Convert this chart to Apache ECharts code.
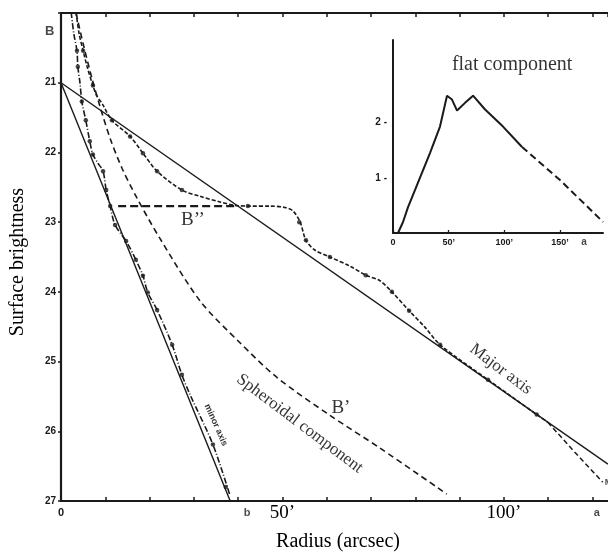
<!DOCTYPE html>
<html>
<head>
<meta charset="utf-8">
<script src="https://cdn.jsdelivr.net/npm/echarts@6/dist/echarts.min.js"></script>
<style>html,body{margin:0;padding:0;background:#fff;}#c{width:608px;height:556px;}</style>
</head>
<body>
<div id="c"></div>
<script>
// ---- Main panel data (radius in arcsec, surface brightness in mag) ----
const majorX = [3.4,4.1,5.0,5.9,7.2,8.1,9.3,11.5,15.6,18.5,21.7,27.3,31.4,35.9,39.3,42.7,47.2,50.6,52.4,54.0,55.3,57.3,60.7,65.2,68.8,72.0,74.7,78.6,82.2,85.6,96.4,107.4,109.9];
const majorY = [19.99,20.3,20.54,20.77,21.04,21.19,21.30,21.54,21.77,22.01,22.27,22.54,22.63,22.71,22.76,22.77,22.77,22.79,22.84,23.0,23.26,23.4,23.5,23.63,23.76,23.84,24.0,24.27,24.51,24.76,25.26,25.76,25.87];
const majorTailX = [109.9,116.0,122.3];
const majorTailY = [25.87,26.3,26.73];
const majorDotX = [5.0,7.2,11.5,15.6,18.5,21.7,27.3,42.2,53.8,55.3,60.7,68.8,74.7,78.6,85.6,96.4,107.4];
const majorDotY = [20.54,21.04,21.54,21.77,22.01,22.27,22.54,22.77,23.0,23.26,23.5,23.76,24.0,24.27,24.76,25.26,25.76];

const minorX = [2.3,2.9,3.6,3.8,4.3,4.7,5.6,6.5,7.2,8.4,9.5,10.2,11.1,12.2,14.7,16.9,18.5,19.6,21.7,25.1,27.3,29.1,34.3,38.1];
const minorY = [19.99,20.3,20.54,20.77,21.01,21.27,21.54,21.84,22.03,22.16,22.27,22.54,22.77,23.04,23.27,23.54,23.77,24.01,24.26,24.76,25.19,25.47,26.19,26.91];
const minorDotX = [3.6,3.8,4.7,5.6,6.5,7.2,9.5,10.2,11.1,12.2,14.7,16.9,18.5,19.6,21.7,25.1,27.3,34.3,37.2];
const minorDotY = [20.54,20.77,21.27,21.54,21.84,22.03,22.27,22.54,22.77,23.04,23.27,23.54,23.77,24.01,24.26,24.76,25.19,26.19,26.8];

const majorFitX = [0,123.5];
const majorFitY = [21,26.47];
const minorFitX = [0,38.2];
const minorFitY = [21,27];

const spheroidX = [3.4,5.0,7.0,8.8,11.1,13.8,17.2,22.3,31.4,40.4,48.8,60.7,72.0,87.1];
const spheroidY = [20.0,20.44,20.94,21.34,21.8,22.23,22.66,23.23,24.13,24.73,25.23,25.77,26.24,26.9];

const plateauX = [12.9,39.5];
const plateauY = [22.77,22.77];

// ---- Inset (flat component) ----
const flatX = [4.5,9,13.5,19.8,26,33.2,42.2,48.5,53,57.5,64.7,71.9,82.7,98.8,115.9];
const flatY = [0,0.2,0.47,0.78,1.09,1.45,1.93,2.49,2.42,2.22,2.36,2.49,2.24,1.93,1.56];
const flatDashX = [115.9,150,188.7];
const flatDashY = [1.56,0.96,0.2];

// ---- Tick labels ----
const mainXTickLabels = {0:'{s|0}', 50:'{t|50’}', 100:'{t|100’}'};
const mainYTickLabels = {21:'21',22:'22',23:'23',24:'24',25:'25',26:'26',27:'27'};
const insetXTickLabels = {0:'0', 50:'50’', 100:'100’', 150:'150’'};
const insetYTickLabels = {1:'1', 2:'2'};

// ---- Annotations: [x, y, text] in data units ----
const mainNotes = [
  [29.8, 22.97, 'B’’'],
  [63.2, 25.66, 'B’'],
  [53.9, 25.89, 'Spheroidal component'],
  [99.3, 25.11, 'Major axis'],
  [35.0, 25.91, 'minor axis']
];
const axisLetters = [[42, 27, 'b'], [121, 27, 'a']];
const insetNotes = [[107, 3.05, 'flat component']];

const zip = (xs, ys) => xs.map((x, i) => [x, ys[i]]);
const INK = '#1a1a1a';
const TXT = '#000';
const SERIF = '"Liberation Serif", "Times New Roman", serif';
const SANS = '"Liberation Sans", Arial, sans-serif';

const noteStyle = {
  'B’’': {fontSize: 19, rotate: 0, font: SERIF, weight: 'normal'},
  'B’': {fontSize: 19, rotate: 0, font: SERIF, weight: 'normal'},
  'Spheroidal component': {fontSize: 17, rotate: -37, font: SERIF, weight: 'normal'},
  'Major axis': {fontSize: 17, rotate: -37, font: SERIF, weight: 'normal'},
  'minor axis': {fontSize: 9, rotate: -66, font: SANS, weight: 'bold'}
};

const chart = echarts.init(document.getElementById('c'), null, {renderer: 'canvas'});

const line = (data, opts) => Object.assign({
  type: 'line', data, xAxisIndex: 0, yAxisIndex: 0, showSymbol: false, symbol: 'none',
  animation: false, silent: true, z: 3
}, opts);

const dots = (data) => ({
  type: 'scatter', data, xAxisIndex: 0, yAxisIndex: 0, symbol: 'circle', symbolSize: 4.5,
  itemStyle: {color: INK}, animation: false, silent: true, z: 4
});

const option = {
  animation: false,
  backgroundColor: '#fff',
  grid: [
    {left: 61, top: 13, right: 0, bottom: 55},
    {left: 393, top: 40, width: 210, height: 193}
  ],
  xAxis: [
    {
      type: 'value', gridIndex: 0, min: 0, max: 123.5, interval: 10, position: 'bottom',
      axisLine: {show: true, lineStyle: {color: INK, width: 2.2}},
      axisTick: {show: true, inside: true, length: 4, lineStyle: {color: INK, width: 1.5}},
      splitLine: {show: false},
      axisLabel: {
        margin: 2, color: TXT, showMaxLabel: false,
        formatter: v => mainXTickLabels[v] || '',
        rich: {
          s: {fontFamily: SANS, fontWeight: 'bold', fontSize: 11, lineHeight: 20, color: INK},
          t: {fontFamily: SERIF, fontSize: 19, lineHeight: 20, color: TXT}
        }
      }
    },
    {
      type: 'value', gridIndex: 0, min: 0, max: 123.5, interval: 10, position: 'top',
      axisLine: {show: true, lineStyle: {color: INK, width: 2}},
      axisTick: {show: true, inside: true, length: 4, lineStyle: {color: INK, width: 1.5}},
      splitLine: {show: false}, axisLabel: {show: false}
    },
    {
      type: 'value', gridIndex: 1, min: 0, max: 188.6, interval: 50, position: 'bottom',
      axisLine: {show: true, onZero: false, lineStyle: {color: INK, width: 2}},
      axisTick: {show: true, inside: true, length: 3, lineStyle: {color: INK, width: 1.3}},
      splitLine: {show: false},
      axisLabel: {
        margin: 5, color: INK, fontFamily: SANS, fontWeight: 'bold', fontSize: 9, showMaxLabel: false,
        formatter: v => insetXTickLabels[v] || ''
      }
    }
  ],
  yAxis: [
    {
      type: 'value', gridIndex: 0, min: 20, max: 27, interval: 1, inverse: true,
      axisLine: {show: true, lineStyle: {color: INK, width: 2.2}},
      axisTick: {show: true, inside: false, length: 3, lineStyle: {color: INK, width: 1.5}},
      splitLine: {show: false},
      axisLabel: {
        margin: 5, color: INK, fontFamily: SANS, fontWeight: 'bold', fontSize: 10,
        formatter: v => mainYTickLabels[v] || ''
      }
    },
    {
      type: 'value', gridIndex: 1, min: 0, max: 3.5, interval: 1,
      axisLine: {show: true, onZero: false, lineStyle: {color: INK, width: 2}},
      axisTick: {show: false},
      splitLine: {show: false},
      axisLabel: {
        margin: 6, color: INK, fontFamily: SANS, fontWeight: 'bold', fontSize: 10, showMaxLabel: false,
        formatter: v => insetYTickLabels[v] ? insetYTickLabels[v] + ' -' : ''
      }
    }
  ],
  graphic: [
    {type: 'text', x: 18, y: 262, rotation: Math.PI / 2, silent: true,
     style: {text: 'Surface brightness', font: '20px ' + SERIF, fill: TXT, align: 'center', verticalAlign: 'middle'}},
    {type: 'text', x: 338, y: 542, silent: true,
     style: {text: 'Radius (arcsec)', font: '20px ' + SERIF, fill: TXT, align: 'center', verticalAlign: 'middle'}}
  ],
  series: [
    // straight fits
    line(zip(majorFitX, majorFitY), {lineStyle: {color: INK, width: 1.4}}),
    line(zip(minorFitX, minorFitY), {lineStyle: {color: INK, width: 1.4}}),
    // spheroidal component
    line(zip(spheroidX, spheroidY), {smooth: 0.3, lineStyle: {color: INK, width: 1.6, type: [6, 4]}}),
    // plateau B''
    line(zip(plateauX, plateauY), {lineStyle: {color: INK, width: 2.4, type: [8, 4]}}),
    // major axis profile
    line(zip(majorX, majorY), {smooth: 0.3, lineStyle: {color: INK, width: 1.6, type: [4, 2]}}),
    line(zip(majorTailX, majorTailY), {lineStyle: {color: INK, width: 1.5, type: [5, 3]}}),
    dots(zip(majorDotX, majorDotY)),
    // minor axis profile
    line(zip(minorX, minorY), {smooth: 0.3, lineStyle: {color: INK, width: 1.6, type: [6, 2, 1, 2]}}),
    dots(zip(minorDotX, minorDotY)),
    // annotations
    {
      type: 'scatter', xAxisIndex: 0, yAxisIndex: 0, symbolSize: 1, itemStyle: {color: 'rgba(0,0,0,0)'},
      animation: false, silent: true, z: 6,
      data: mainNotes.map(n => {
        const st = noteStyle[n[2]];
        return {value: [n[0], n[1]], label: {show: true, position: 'inside', formatter: n[2], rotate: st.rotate,
          fontFamily: st.font, fontSize: st.fontSize, fontWeight: st.weight, color: TXT,
          letterSpacing: n[2] === 'minor axis' ? 1.5 : 0}};
      })
    },
    {
      type: 'scatter', xAxisIndex: 0, yAxisIndex: 0, symbolSize: 1, itemStyle: {color: 'rgba(0,0,0,0)'},
      animation: false, silent: true, z: 6, clip: false,
      data: [
        {value: [0, 20.27], label: {show: true, position: 'left', distance: 6, formatter: 'B',
          fontFamily: SANS, fontWeight: 'bold', fontSize: 13, color: INK}},
        {value: [122.4, 26.73], label: {show: true, position: 'right', distance: 1, formatter: 'M',
          fontFamily: SANS, fontWeight: 'bold', fontSize: 9, color: INK}}
      ].concat(axisLetters.map(n => ({value: [n[0], n[1]], label: {show: true, position: 'bottom', distance: 6,
          formatter: n[2], fontFamily: SANS, fontWeight: 'bold', fontSize: 11, color: INK}})))
    },
    // inset
    {type: 'line', xAxisIndex: 2, yAxisIndex: 1, data: zip(flatX, flatY), smooth: false, symbol: 'none',
     lineStyle: {color: INK, width: 2}, animation: false, silent: true},
    {type: 'line', xAxisIndex: 2, yAxisIndex: 1, data: zip(flatDashX, flatDashY), symbol: 'none',
     lineStyle: {color: INK, width: 2, type: [7, 4]}, animation: false, silent: true},
    {
      type: 'scatter', xAxisIndex: 2, yAxisIndex: 1, symbolSize: 1, itemStyle: {color: 'rgba(0,0,0,0)'},
      animation: false, silent: true, z: 6, clip: false,
      data: insetNotes.map(n => ({value: [n[0], n[1]], label: {show: true, position: 'inside', formatter: n[2],
        fontFamily: SERIF, fontSize: 20, color: TXT}})).concat([
        {value: [171.6, 0], label: {show: true, position: 'bottom', distance: 4, formatter: 'a',
          fontFamily: SANS, fontWeight: 'bold', fontSize: 10, color: INK}}
      ])
    }
  ]
};
chart.setOption(option);
</script>
</body>
</html>
